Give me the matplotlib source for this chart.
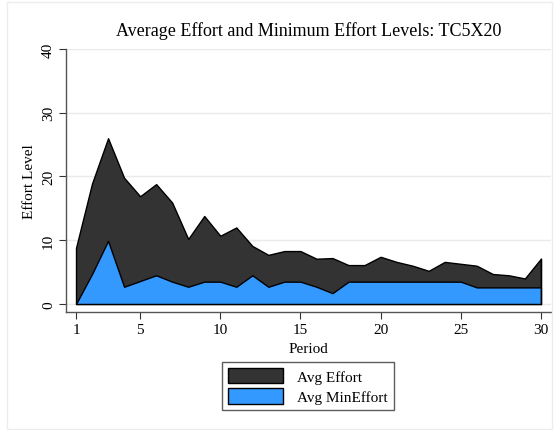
import numpy as np
import matplotlib
matplotlib.use("Agg")
import matplotlib.pyplot as plt
from matplotlib.patches import Rectangle, Patch

plt.rcParams["font.family"] = ["Liberation Serif", "DejaVu Serif"]

periods = list(range(1, 31))
avg_effort = [8.8, 18.9, 26.0, 19.8, 16.9, 18.8, 15.9, 10.2, 13.8, 10.7,
              12.0, 9.1, 7.7, 8.3, 8.3, 7.1, 7.2, 6.1, 6.1, 7.4,
              6.6, 6.0, 5.2, 6.6, 6.3, 6.0, 4.7, 4.5, 4.0, 7.1]
avg_min_effort = [0.0, 4.7, 9.9, 2.7, 3.6, 4.5, 3.5, 2.7, 3.5, 3.5,
                  2.7, 4.5, 2.7, 3.5, 3.5, 2.7, 1.7, 3.5, 3.5, 3.5,
                  3.5, 3.5, 3.5, 3.5, 3.5, 2.6, 2.6, 2.6, 2.6, 2.6]
y_ticks = [0, 10, 20, 30, 40]
x_ticks = [1, 5, 10, 15, 20, 25, 30]

W, H = 559, 431
fig = plt.figure(figsize=(W / 100, H / 100), dpi=100)
fig.patch.set_facecolor("white")

# faint outer frame of the graph region
fig.add_artist(Rectangle((7 / W, 1 - 430 / H), 545 / W, 427 / H,
                         transform=fig.transFigure, fill=False,
                         edgecolor="#ececec", linewidth=1))

ax = fig.add_axes([66 / W, 1 - 313 / H, 485 / W, 263 / H])
ax.set_xlim(0.376, 30.63)
ax.set_ylim(-1.26, 40)

for y in y_ticks:
    ax.axhline(y, color="#eaeaea", linewidth=1, zorder=0)

ax.fill_between(periods, avg_effort, color="#333333", edgecolor="black",
                linewidth=1, zorder=2)
ax.fill_between(periods, avg_min_effort, color="#3399ff", edgecolor="black",
                linewidth=1, zorder=3)
ax.plot([periods[-1], periods[-1]], [0, avg_effort[-1]], color="black",
        linewidth=1, zorder=4)

for side in ["top", "right"]:
    ax.spines[side].set_visible(False)
for side in ["left", "bottom"]:
    ax.spines[side].set_color("#555555")
    ax.spines[side].set_linewidth(1)

ax.set_yticks(y_ticks)
ax.set_yticklabels([str(v) for v in y_ticks], rotation=90, va="center")
ax.set_xticks(x_ticks)
ax.tick_params(axis="both", labelsize=11, direction="out", length=5,
               width=0.8, color="#333333", pad=3)
ax.set_ylabel("Effort Level", fontsize=11, labelpad=4)
ax.set_xlabel("Period", fontsize=11, labelpad=4)
ax.set_title("Average Effort and Minimum Effort Levels: TC5X20",
             fontsize=13, pad=10)

handles = [Patch(facecolor="#333333", edgecolor="black", label="Avg Effort"),
           Patch(facecolor="#3399ff", edgecolor="black", label="Avg MinEffort")]
leg = fig.legend(handles=handles, loc="center", bbox_to_anchor=(308 / W, 1 - 387 / H),
                 fontsize=11, frameon=True, fancybox=False, handlelength=3.6,
                 handleheight=1.2, borderpad=0.4, labelspacing=0.3,
                 handletextpad=0.9)
leg.get_frame().set_edgecolor("#333333")
leg.get_frame().set_linewidth(1)

fig.savefig("out.png", dpi=100)
